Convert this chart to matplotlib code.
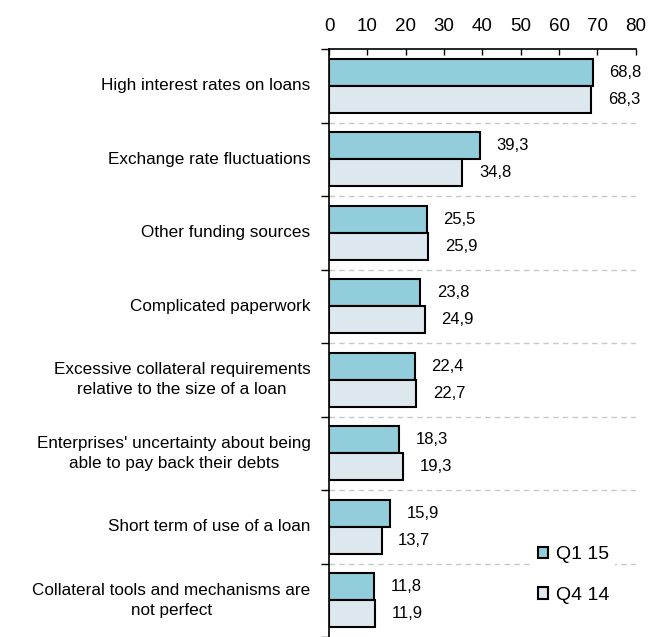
import numpy as np
import matplotlib.pyplot as plt

plt.rcParams['font.family'] = ['Liberation Sans', 'DejaVu Sans']

categories = [
    "High interest rates on loans",
    "Exchange rate fluctuations",
    "Other funding sources",
    "Complicated paperwork",
    "Excessive collateral requirements\nrelative to the size of a loan",
    "Enterprises' uncertainty about being\nable to pay back their debts",
    "Short term of use of a loan",
    "Collateral tools and mechanisms are\nnot perfect",
]
q1_15 = [68.8, 39.3, 25.5, 23.8, 22.4, 18.3, 15.9, 11.8]
q4_14 = [68.3, 34.8, 25.9, 24.9, 22.7, 19.3, 13.7, 11.9]
series_names = ["Q1 15", "Q4 14"]
colors = ["#92CDDC", "#DDE7EE"]

fig = plt.figure(figsize=(6.57, 6.37), dpi=100)
ax = fig.add_axes([0.5008, 0.0, 0.467, 0.923])

y = np.arange(len(categories))
h = 0.37
for vals, off, col, name in [(q1_15, -h / 2, colors[0], series_names[0]),
                             (q4_14, h / 2, colors[1], series_names[1])]:
    bars = ax.barh(y + off, vals, height=h, color=col, edgecolor="black",
                   linewidth=1.5, label=name)
    for b, v in zip(bars, vals):
        ax.annotate(f"{v:.1f}".replace(".", ","),
                    (b.get_width(), b.get_y() + b.get_height() / 2),
                    xytext=(12, 0), textcoords="offset points",
                    va="center", ha="left", fontsize=12, annotation_clip=False)

# dashed separators between groups
for s in y[:-1] + 0.5:
    ax.axhline(s, color="#C8C8C8", linestyle=(0, (4, 3)), linewidth=1, zorder=0)

ax.set_xlim(0, 80)
ax.set_ylim(len(categories) - 0.5, -0.5)
ax.xaxis.tick_top()
ax.set_xticks(np.arange(0, 81, 10))
ax.tick_params(axis="x", direction="in", length=4, width=1, labelsize=13.5, pad=10)

ax.set_yticks(np.arange(-0.5, len(categories), 1.0))
ax.set_yticklabels([])
ax.tick_params(axis="y", direction="out", length=6, width=1)
for i, c in enumerate(categories):
    ax.text(-0.06, i, c, transform=ax.get_yaxis_transform(), ha="right",
            va="center", multialignment="center", fontsize=12.3,
            linespacing=1.4)

for side in ["right", "bottom"]:
    ax.spines[side].set_visible(False)
for side in ["top", "left"]:
    ax.spines[side].set_linewidth(1.2)

ax.legend(loc="lower right", bbox_to_anchor=(0.965, 0.03), frameon=True,
          edgecolor="none", facecolor="white", framealpha=1, fontsize=14,
          handlelength=0.55, handleheight=0.55, handletextpad=0.4,
          labelspacing=1.2, borderpad=0.3)

fig.savefig("out.png", dpi=100)
